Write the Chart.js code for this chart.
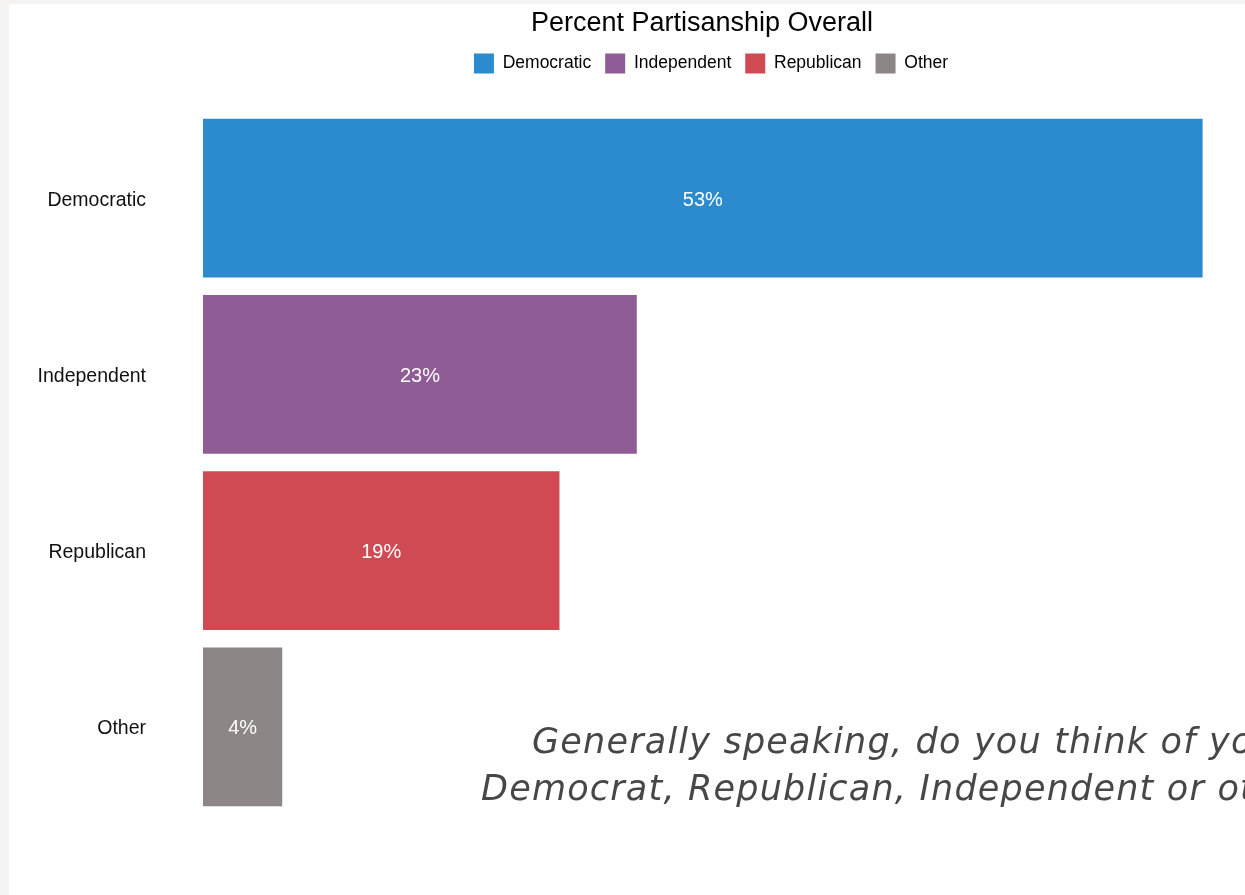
<!DOCTYPE html>
<html lang="en">
<head>
    <meta charset="UTF-8">
    <title>Percent Partisanship Overall</title>
    <script src="https://cdn.jsdelivr.net/npm/chart.js"></script>
    <style>
        * { margin: 0; padding: 0; box-sizing: border-box; }

        html, body {
            width: 1245px;
            height: 895px;
            overflow: hidden;
            background: #f4f3f1;
        }

        /* white slide panel, slightly offset from the page edge */
        .panel {
            position: absolute;
            left: 9px;
            top: 4px;
            width: 1400px;
            height: 891px;
            background: #ffffff;
        }

        /* canvas is wider than the window so the title centres over the bars */
        .chart-box {
            position: absolute;
            left: 0;
            top: 0;
            width: 1386px;
            height: 891px;
        }

        .question {
            position: absolute;
            font-family: 'DejaVu Sans', sans-serif;
            font-style: italic;
            font-weight: 200;
            font-size: 35px;
            letter-spacing: 1.2px;
            line-height: 46px;
            color: #474747;
            white-space: nowrap;
        }
    </style>
</head>
<body>
    <div class="panel">
        <div class="chart-box">
            <canvas id="partyChart"></canvas>
        </div>
    </div>
    <div class="question" style="left: 532px; top: 718px;">Generally speaking, do you think of yourself as a</div>
    <div class="question" style="left: 481px; top: 765px;">Democrat, Republican, Independent or other?</div>

    <script>
        // data
        const categories = ['Democratic', 'Independent', 'Republican', 'Other'];
        const percents = [53.0, 23.0, 18.9, 4.2];
        const barColors = ['#2c8bce', '#8f5c96', '#d04a53', '#8c8686'];

        // push extra space under the legend, nudge it right a little
        const legendGap = {
            id: 'legendGap',
            beforeInit(chart) {
                const fit = chart.legend.fit;
                chart.legend.fit = function () {
                    fit.bind(chart.legend)();
                    this.height += 26.6;
                };
            },
            afterLayout(chart) {
                chart.legend.left += 9;
                chart.legend.right += 9;
            }
        };

        // white percent labels centred in each bar
        const barLabels = {
            id: 'barLabels',
            afterDatasetsDraw(chart) {
                const ctx = chart.ctx;
                const meta = chart.getDatasetMeta(0);
                ctx.save();
                ctx.font = '20px "Liberation Sans", Arial, sans-serif';
                ctx.fillStyle = '#ffffff';
                ctx.textAlign = 'center';
                ctx.textBaseline = 'middle';
                meta.data.forEach((bar, i) => {
                    const x = (bar.x + bar.base) / 2;
                    ctx.fillText(Math.round(percents[i]) + '%', x, bar.y + 2);
                });
                ctx.restore();
            }
        };

        const ctx = document.getElementById('partyChart').getContext('2d');
        const partyChart = new Chart(ctx, {
            type: 'bar',
            data: {
                labels: categories,
                datasets: [{
                    label: 'Percent',
                    data: percents,
                    backgroundColor: barColors,
                    borderWidth: 0,
                    categoryPercentage: 1.0,
                    barPercentage: 0.9
                }]
            },
            options: {
                indexAxis: 'y',
                responsive: true,
                maintainAspectRatio: false,
                animation: false,
                layout: {
                    padding: { top: 0, left: 0, right: 0, bottom: 80 }
                },
                scales: {
                    x: {
                        display: false,
                        min: 0,
                        max: 63.2
                    },
                    y: {
                        grid: { display: false, drawTicks: false },
                        border: { display: false },
                        ticks: {
                            padding: 57,
                            labelOffset: 2,
                            color: '#111111',
                            font: { family: '"Liberation Sans", Arial, sans-serif', size: 19.5 }
                        },
                        afterFit(scale) {
                            scale.width = 194;
                        }
                    }
                },
                plugins: {
                    title: {
                        display: true,
                        text: 'Percent Partisanship Overall',
                        color: '#000000',
                        font: { family: '"Liberation Sans", Arial, sans-serif', size: 27, weight: 'normal' },
                        padding: { top: 3, bottom: 0 }
                    },
                    legend: {
                        display: true,
                        position: 'top',
                        labels: {
                            color: '#111111',
                            boxWidth: 20,
                            boxHeight: 20,
                            padding: 14,
                            font: { family: '"Liberation Sans", Arial, sans-serif', size: 17.5 },
                            generateLabels(chart) {
                                return categories.map((name, i) => ({
                                    text: name,
                                    fillStyle: barColors[i],
                                    strokeStyle: barColors[i],
                                    lineWidth: 0,
                                    hidden: false,
                                    index: i
                                }));
                            }
                        }
                    },
                    tooltip: { enabled: false }
                }
            },
            plugins: [legendGap, barLabels]
        });
    </script>
</body>
</html>
